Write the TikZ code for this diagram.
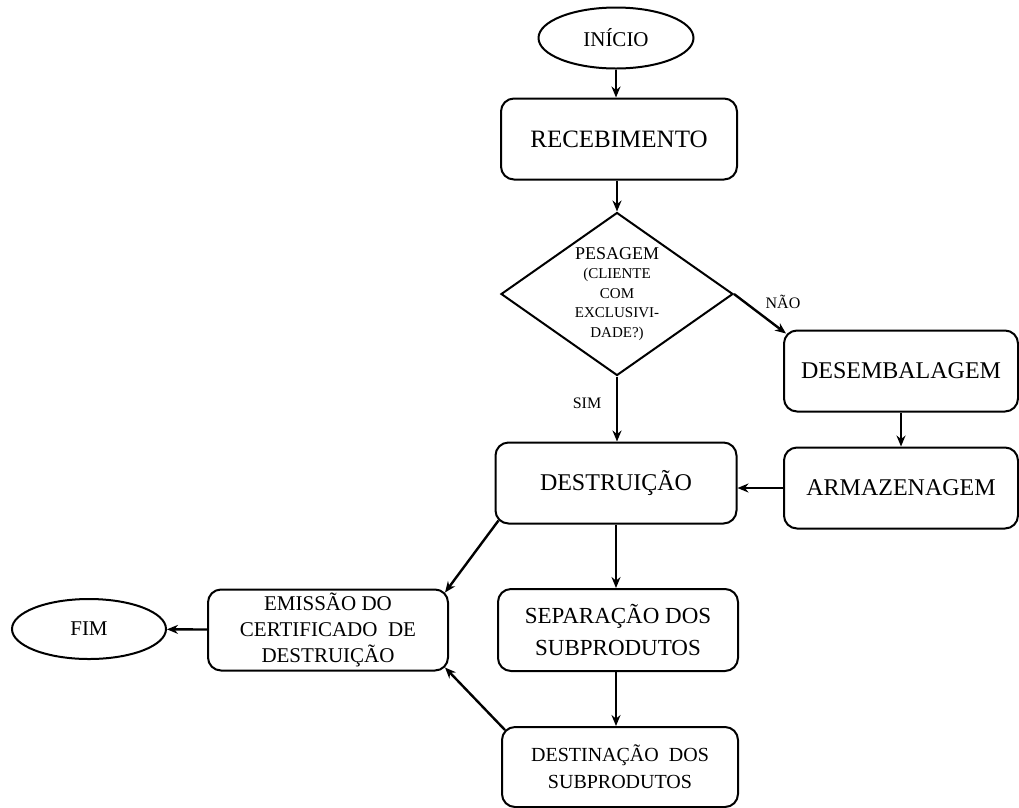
\documentclass[tikz,border=0pt]{standalone}
\usepackage{fontspec}
\setmainfont{Liberation Serif}
\usetikzlibrary{shapes.geometric,arrows.meta}

\begin{document}
\begin{tikzpicture}[x=1pt,y=-1pt,->,>={Stealth[length=11pt,width=9pt]},line width=2.4pt]
		\useasboundingbox (0,0) rectangle (1019,807);
		
		\tikzstyle{every node}=[inner sep=0pt,align=center]
		\tikzstyle{etapa}=[draw,rectangle,rounded corners=13pt,line width=2pt,minimum width=236pt,minimum height=81pt]
		\tikzstyle{terminal}=[draw,ellipse,line width=2pt,minimum width=155pt,minimum height=61pt,font=\fontsize{21}{25}\selectfont]
		\tikzstyle{decisao}=[draw,diamond,aspect=1.42,line width=2pt,minimum width=232pt,minimum height=163pt,font=\fontsize{15}{19.5}\selectfont]
		\tikzstyle{resposta}=[font=\fontsize{16}{19}\selectfont]
		\tikzstyle{grande}=[font=\fontsize{24}{28}\selectfont]
		\tikzstyle{media}=[font=\fontsize{21}{26}\selectfont]
		
		% Draw the start and the first step
		\node[terminal] (inicio) at (616,38) {INÍCIO};
		\node[etapa,font=\fontsize{25}{28}\selectfont] (receb) at (619,139) {RECEBIMENTO};
		
		% Draw the decision
		\node[decisao] (pesagem) at (617,294) {{\fontsize{18}{19.5}\selectfont PESAGEM}\\(CLIENTE\\COM\\EXCLUSIVI-\\DADE?)};
		
		% Draw the branch on the right (answer no)
		\node[etapa,grande,minimum width=234pt] (desemb) at (901,371) {DESEMBALAGEM};
		\node[etapa,grande,minimum width=234pt] (armaz) at (901,488) {ARMAZENAGEM};
		
		% Draw the middle column
		\node[etapa,grande,minimum width=241pt] (destr) at (616,483) {DESTRUIÇÃO};
		\node[etapa,minimum width=240pt,minimum height=82pt,font=\fontsize{23}{32}\selectfont] (separ) at (618,630) {SEPARAÇÃO DOS\\SUBPRODUTOS};
		\node[etapa,minimum height=80pt,font=\fontsize{20}{27}\selectfont] (destin) at (620,767) {DESTINAÇÃO~ DOS\\SUBPRODUTOS};
		
		% Draw the certificate and the end
		\node[etapa,media,minimum width=240pt] (emissao) at (328,630) {EMISSÃO DO\\CERTIFICADO~ DE\\DESTRUIÇÃO};
		\node[terminal,minimum width=154pt,minimum height=60pt] (fim) at (89,629) {FIM};
		
		% Answer labels
		\node[resposta] (nao) at (783,302) {NÃO};
		\node[resposta] (sim) at (587,403) {SIM};
		
		% Points on the rounded corners
		\coordinate (destr-sw) at ([shift={(4,-4)}]destr.south west);
		\coordinate (destin-nw) at ([shift={(4,4)}]destin.north west);
		\coordinate (emissao-ne) at ([shift={(-4,4)}]emissao.north east);
		\coordinate (emissao-se) at ([shift={(-4,-4)}]emissao.south east);
		\coordinate (desemb-nw) at ([shift={(3,4)}]desemb.north west);
		
		% Connect the steps
		\draw (inicio) -- (inicio |- receb.north);
		\draw (receb.south -| pesagem) -- (pesagem.north);
		\draw (pesagem.east) -- (desemb-nw);
		\draw (pesagem.south) -- (pesagem.south |- destr.north);
		\draw (desemb) -- (armaz);
		\draw (armaz.west) -- (armaz.west -| destr.east);
		\draw (destr) -- (destr |- separ.north);
		\draw (destr |- separ.south) -- (destr |- destin.north);
		\draw (destr-sw) -- (emissao-ne);
		\draw (destin-nw) -- (emissao-se);
		\draw (emissao) -- (fim);
	\end{tikzpicture}
\end{document}
